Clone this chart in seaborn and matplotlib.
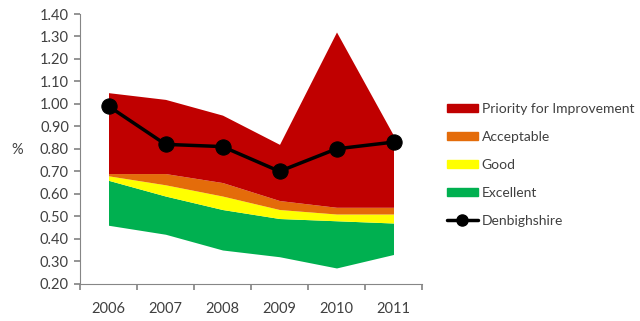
import matplotlib
matplotlib.use("Agg")
import matplotlib.pyplot as plt
import seaborn as sns
import pandas as pd
from matplotlib.patches import Patch
from matplotlib.lines import Line2D

years = ["2006", "2007", "2008", "2009", "2010", "2011"]
base = [0.46, 0.42, 0.35, 0.32, 0.27, 0.33]
excellent = [0.20, 0.17, 0.18, 0.17, 0.21, 0.14]
good = [0.02, 0.05, 0.06, 0.04, 0.03, 0.04]
acceptable = [0.01, 0.05, 0.06, 0.04, 0.03, 0.03]
priority = [0.36, 0.33, 0.30, 0.25, 0.78, 0.32]
denbighshire = [0.99, 0.82, 0.81, 0.70, 0.80, 0.83]

colors = {
    "Priority for Improvement": "#C00000",
    "Acceptable": "#E46C0A",
    "Good": "#FFFF00",
    "Excellent": "#00B050",
}

sns.set_theme(style="white")
plt.rcParams["font.family"] = ["Lato", "DejaVu Sans"]

df = pd.DataFrame({"pos": range(len(years)), "Denbighshire": denbighshire})

fig = plt.figure(figsize=(6.4, 3.21), dpi=100)
ax = fig.add_axes([80 / 640, 1 - 283.7 / 321, 342 / 640, 269.7 / 321])

ax.stackplot(
    df["pos"],
    base, excellent, good, acceptable, priority,
    colors=["none", colors["Excellent"], colors["Good"],
            colors["Acceptable"], colors["Priority for Improvement"]],
    linewidth=0,
)

sns.lineplot(
    data=df, x="pos", y="Denbighshire", ax=ax,
    color="black", linewidth=2.5, marker="o", markersize=11,
    markeredgecolor="black", legend=False,
)

ax.set_xlim(-0.5, len(years) - 0.5)
ax.set_ylim(0.2, 1.4)
ax.set_yticks([0.2 + 0.1 * i for i in range(13)])
ax.set_yticklabels([f"{0.2 + 0.1 * i:.2f}" for i in range(13)], fontsize=10.5, color="#404040")
ax.set_xticks([i - 0.5 for i in range(len(years) + 1)])
ax.set_xticklabels([])
ax.set_xticks(range(len(years)), minor=True)
ax.set_xticklabels(years, minor=True, fontsize=10.5, color="#404040")
ax.tick_params(axis="x", which="major", length=4, color="#868686", direction="out", bottom=True)
ax.tick_params(axis="x", which="minor", length=0, pad=13)
ax.tick_params(axis="y", length=4, color="#868686", direction="out", left=True, pad=4)
ax.set_xlabel("")
ax.set_ylabel("")

for side in ["top", "right"]:
    ax.spines[side].set_visible(False)
for side in ["left", "bottom"]:
    ax.spines[side].set_color("#868686")
    ax.spines[side].set_linewidth(0.8)

fig.text(17 / 640, 1 - 150 / 321, "%", fontsize=10.5, color="#404040", ha="center", va="center")

handles = [Patch(color=c, label=k) for k, c in colors.items()]
handles.append(Line2D([0], [0], color="black", linewidth=2.5, marker="o", markersize=8, label="Denbighshire"))
fig.legend(
    handles=handles, loc="upper left", bbox_to_anchor=(447 / 640, 1 - 103 / 321),
    frameon=False, fontsize=10, handlelength=2.2, handleheight=0.55,
    labelspacing=1.15, handletextpad=0.3, labelcolor="#404040",
    borderpad=0, borderaxespad=0,
)

fig.savefig("out.png", dpi=100)
